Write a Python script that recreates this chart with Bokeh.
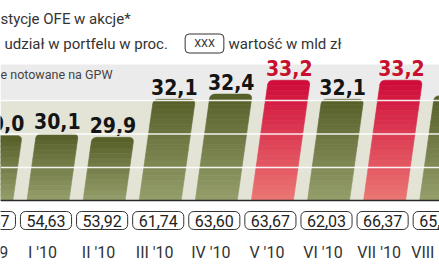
import math
from bokeh.plotting import figure
from bokeh.models import Range1d, ColumnDataSource, Span
from bokeh.core.properties import value
from bokeh.embed import file_html
from bokeh.resources import INLINE

# ---------------- data ----------------
miesiace = ["XII '09", "I '10", "II '10", "III '10", "IV '10", "V '10", "VI '10", "VII '10", "VIII '10"]
udzial = [30.0, 30.1, 29.9, 32.1, 32.4, 33.2, 32.1, 33.2, 32.3]          # udział w portfelu w proc.
udzial_widoczny = [True, True, True, True, True, True, True, True, False]  # label readable in picture
wartosc = [54.57, 54.63, 53.92, 61.74, 63.60, 63.67, 62.03, 66.37, 65.52]  # wartość w mld zł
tytul = "stycje OFE w akcje*"
legenda_1 = "udział w portfelu w proc."
legenda_2 = "wartość w mld zł"
pasek = "e notowane na GPW"

# ---------------- layout ----------------
W, H = 439, 268
KX = 56.1          # px per category
KY = 17.3          # px per percentage point
BASE = 26.25       # value at baseline
BASE_PX = 200
X0 = 1 - 45.5 / KX
Y1 = BASE + BASE_PX / KY


def ypx(px):
    return Y1 - px / KY


def xpx(px):
    return X0 + px / KX


p = figure(width=W, height=H, x_range=Range1d(X0, X0 + W / KX), y_range=Range1d(Y1 - H / KY, Y1),
           output_backend="svg", toolbar_location=None, x_axis_type=None, y_axis_type=None,
           min_border=0, min_border_left=0, min_border_right=0, min_border_top=0, min_border_bottom=0,
           outline_line_color=None, background_fill_color="white", border_fill_color="white")
p.grid.visible = False

XL, XR = X0, X0 + W / KX
# background bands
p.quad(left=XL, right=XR, top=ypx(64), bottom=ypx(100), fill_color="#ebebeb", line_color=None)
p.quad(left=XL, right=XR, top=ypx(100), bottom=BASE, fill_color="#e3e3d6", line_color=None)


def hex2rgb(h):
    h = h.lstrip("#")
    return tuple(int(h[i:i + 2], 16) for i in (0, 2, 4))


def mix(c1, c2, t):
    a, b = hex2rgb(c1), hex2rgb(c2)
    return "#%02x%02x%02x" % tuple(int(round(a[i] + (b[i] - a[i]) * t)) for i in range(3))


GREEN = ("#959f6c", "#565e28")   # bottom, top
RED = ("#eb7772", "#cf0a39")

slant = 0.14 * KY / KX
half = 21 / KX
rx, ry = 5 / KX, 5 / KY
peak = max(udzial)

xs, ys, cols = [], [], []
lab_x, lab_y, lab_t, lab_c = [], [], [], []
for i, v in enumerate(udzial):
    c = i + 2 / KX
    pal = RED if v == peak else GREEN
    left = lambda y: c - half + slant * (y - BASE)
    right = lambda y: c + half + slant * (y - BASE)
    h = v - BASE
    n = max(1, int(h * KY / 5))
    edges = [BASE + h * k / n for k in range(n + 1)]
    for k in range(n):
        yb, yt = edges[k], edges[k + 1]
        col = mix(pal[0], pal[1], (k + 0.5) / n)
        if k < n - 1:
            px_ = [left(yb), right(yb), right(yt), left(yt)]
            py_ = [yb, yb, yt, yt]
        else:
            px_ = [left(yb), right(yb), right(v - ry)]
            py_ = [yb, yb, v - ry]
            p0 = (right(v - ry), v - ry)
            p1 = (right(v), v)
            p2 = (right(v) - rx, v)
            for s in range(1, 7):
                t = s / 6
                px_.append((1 - t) ** 2 * p0[0] + 2 * (1 - t) * t * p1[0] + t * t * p2[0])
                py_.append((1 - t) ** 2 * p0[1] + 2 * (1 - t) * t * p1[1] + t * t * p2[1])
            p0 = (left(v) + rx, v)
            p1 = (left(v), v)
            p2 = (left(v - ry), v - ry)
            for s in range(0, 7):
                t = s / 6
                px_.append((1 - t) ** 2 * p0[0] + 2 * (1 - t) * t * p1[0] + t * t * p2[0])
                py_.append((1 - t) ** 2 * p0[1] + 2 * (1 - t) * t * p1[1] + t * t * p2[1])
        xs.append(px_)
        ys.append(py_)
        cols.append(col)
    if udzial_widoczny[i]:
        lab_x.append(c + slant * h)
        lab_y.append(v + 12.5 / KY)
        lab_t.append(f"{v:.1f}".replace(".", ","))
        lab_c.append("#c8102e" if v == peak else "#141414")

p.patches(xs="xs", ys="ys", fill_color="cols", line_color="cols", line_width=0.6,
          source=ColumnDataSource(dict(xs=xs, ys=ys, cols=cols)))

# white grid lines across everything
for gpx in (100, 133.5, 167):
    p.add_layout(Span(location=ypx(gpx), dimension="width", line_color="white", line_width=1.6, line_alpha=0.9))
p.add_layout(Span(location=BASE, dimension="width", line_color="#2a2a2a", line_width=1.5))

# bar value labels
p.text(x="x", y="y", text="t", text_color="c", source=ColumnDataSource(dict(x=lab_x, y=lab_y, t=lab_t, c=lab_c)),
       text_font=value("'Liberation Sans Narrow', 'DejaVu Sans Condensed', sans-serif"), text_font_style="bold",
       text_font_size="21px", text_align="center", text_baseline="middle")

# value boxes
idx = list(range(len(miesiace)))
p.text(x=idx, y=[ypx(220)] * len(idx), text=[f"{w:.2f}".replace(".", ",") for w in wartosc],
       text_font=value("Roboto"), text_font_size="16px", text_color="#222222",
       text_align="center", text_baseline="middle",
       background_fill_color="white", border_line_color="#333333", border_line_width=1,
       border_radius=5, padding=dict(left=6, right=6, top=3, bottom=3))

# month labels
p.text(x=[i - 3.5 / KX for i in idx], y=[ypx(252)] * len(idx), text=miesiace,
       text_font=value("Roboto"), text_font_size="16px", text_color="#333333",
       text_align="center", text_baseline="middle")

# header texts
p.text(x=[xpx(0)], y=[ypx(18)], text=[tytul], text_font=value("Roboto"), text_font_size="15px",
       text_color="#333333", text_align="left", text_baseline="middle")
p.text(x=[xpx(4)], y=[ypx(43)], text=[legenda_1], text_font=value("Roboto"), text_font_size="15px",
       text_color="#333333", text_align="left", text_baseline="middle")
p.text(x=[xpx(204)], y=[ypx(43)], text=["XXX"], text_font=value("Roboto"), text_font_size="11px",
       text_color="#333333", text_align="center", text_baseline="middle",
       background_fill_color="white", border_line_color="#333333", border_line_width=1,
       border_radius=4, padding=dict(left=9, right=9, top=3, bottom=3))
p.text(x=[xpx(228)], y=[ypx(43)], text=[legenda_2], text_font=value("Roboto"), text_font_size="15px",
       text_color="#333333", text_align="left", text_baseline="middle")
p.text(x=[xpx(0)], y=[ypx(74)], text=[pasek], text_font=value("Roboto"), text_font_size="12.5px",
       text_color="#444444", text_align="left", text_baseline="middle")

open("out.html", "w").write(file_html(p, INLINE))
